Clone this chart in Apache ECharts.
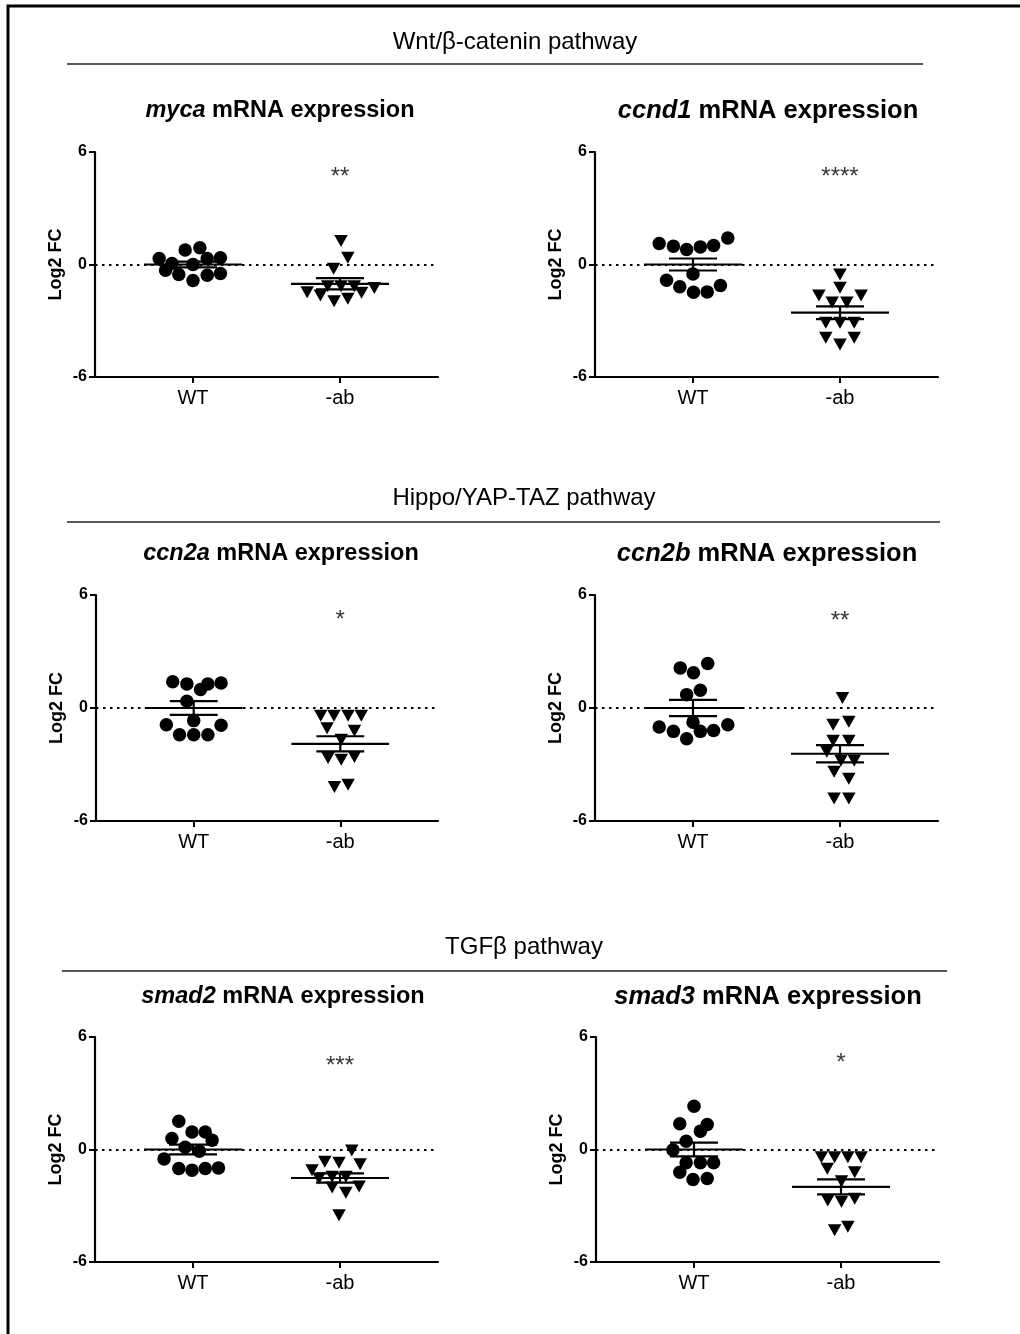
<!DOCTYPE html>
<html>
<head>
<meta charset="utf-8">
<script src="https://cdn.jsdelivr.net/npm/echarts@6/dist/echarts.min.js"></script>
<style>
html,body{margin:0;padding:0;background:#fff;}
#chart{width:1020px;height:1334px;}
</style>
</head>
<body>
<div id="chart"></div>
<script>
// ---------- data ----------
var groups = ['WT', '-ab'];
var groupX = [2, 5];
var yTicks = [-6, 0, 6];
var genes = ['myca', 'ccnd1', 'ccn2a', 'ccn2b', 'smad2', 'smad3'];
var sections = ['Wnt/\u03b2-catenin pathway', 'Hippo/YAP-TAZ pathway', 'TGF\u03b2 pathway'];
var stars = ['**', '****', '*', '**', '***', '*'];
var starY = [4.84, 4.84, 4.88, 4.83, 4.66, 4.8];

var mycaWT = [0.32, -0.30, 0.05, -0.53, 0.77, 0.0, -0.85, 0.89, 0.32, -0.57, 0.36, -0.48];
var mycaWTdx = [-0.69, -0.56, -0.43, -0.29, -0.16, 0, 0, 0.14, 0.29, 0.29, 0.56, 0.56];
var mycaAB = [1.25, 0.36, -0.23, -1.48, -1.65, -1.16, -1.96, -1.16, -1.83, -1.16, -1.51, -1.25];
var mycaABdx = [0.02, 0.16, -0.13, -0.67, -0.40, -0.25, -0.12, 0.02, 0.16, 0.29, 0.44, 0.70];

var ccnd1WT = [1.12, 0.98, 0.80, 0.94, 1.01, 1.41, -0.50, -0.84, -1.19, -1.48, -1.46, -1.12];
var ccnd1WTdx = [-0.69, -0.40, -0.13, 0.15, 0.42, 0.71, 0, -0.54, -0.27, 0.01, 0.29, 0.56];
var ccnd1AB = [-0.53, -1.24, -1.65, -1.65, -2.03, -2.03, -3.1, -3.1, -3.1, -3.9, -3.9, -4.27];
var ccnd1ABdx = [0, 0, -0.43, 0.43, -0.16, 0.14, -0.29, 0, 0.29, -0.29, 0.29, 0];

var ccn2aWT = [1.39, 1.28, 0.98, 1.28, 1.33, 0.36, -0.67, -0.89, -1.42, -1.42, -1.42, -0.92];
var ccn2aWTdx = [-0.43, -0.14, 0.14, 0.29, 0.56, -0.14, 0, -0.56, -0.29, 0, 0.29, 0.56];
var ccn2aAB = [-0.41, -0.41, -0.41, -0.41, -1.07, -1.21, -1.69, -2.65, -2.75, -2.6, -4.2, -4.08];
var ccn2aABdx = [-0.40, -0.13, 0.16, 0.43, -0.27, 0.29, 0.02, -0.25, 0.02, 0.29, -0.12, 0.16];

var ccn2bWT = [2.13, 1.87, 2.36, 0.71, 0.94, -0.75, -1.01, -1.24, -1.63, -1.24, -1.19, -0.89];
var ccn2bWTdx = [-0.26, 0.01, 0.30, -0.13, 0.15, 0, -0.69, -0.40, -0.13, 0.15, 0.42, 0.71];
var ccn2bAB = [0.53, -0.89, -0.73, -1.74, -1.74, -2.32, -2.8, -2.8, -3.39, -3.76, -4.8, -4.8];
var ccn2bABdx = [0.05, -0.14, 0.18, -0.14, 0.18, -0.27, 0.02, 0.29, -0.12, 0.18, -0.12, 0.18];

var smad2WT = [1.51, 0.59, 0.93, 0.93, 0.50, 0.12, -0.09, -0.50, -1.01, -1.10, -1.01, -0.98];
var smad2WTdx = [-0.29, -0.43, -0.02, 0.25, 0.39, -0.16, 0.13, -0.59, -0.29, -0.02, 0.25, 0.52];
var smad2AB = [-0.05, -0.65, -0.70, -0.78, -1.10, -1.55, -1.45, -1.45, -2.03, -2.30, -1.97, -3.50];
var smad2ABdx = [0.24, -0.31, -0.02, 0.41, -0.57, -0.43, -0.16, 0.12, -0.16, 0.12, 0.39, -0.02];

var smad3WT = [2.31, 1.37, 1.33, 0.98, 0.44, -0.02, -0.71, -0.71, -0.71, -1.21, -1.55, -1.60];
var smad3WTdx = [0, -0.29, 0.27, 0.13, -0.16, -0.43, -0.16, 0.13, 0.40, -0.29, 0.27, -0.02];
var smad3AB = [-0.41, -0.41, -0.41, -0.41, -1.03, -1.21, -1.69, -2.72, -2.79, -2.62, -4.3, -4.12];
var smad3ABdx = [-0.40, -0.13, 0.14, 0.41, -0.28, 0.28, 0.01, -0.27, 0.01, 0.28, -0.13, 0.14];

var meanWT = [0, 0, 0, 0, 0, 0];
var semWT = [0.15, 0.32, 0.36, 0.43, 0.26, 0.37];
var meanAB = [-1.03, -2.57, -1.9, -2.43, -1.52, -1.99];
var semAB = [0.3, 0.34, 0.4, 0.46, 0.25, 0.4];

var wtVals = [mycaWT, ccnd1WT, ccn2aWT, ccn2bWT, smad2WT, smad3WT];
var wtDx = [mycaWTdx, ccnd1WTdx, ccn2aWTdx, ccn2bWTdx, smad2WTdx, smad3WTdx];
var abVals = [mycaAB, ccnd1AB, ccn2aAB, ccn2bAB, smad2AB, smad3AB];
var abDx = [mycaABdx, ccnd1ABdx, ccn2aABdx, ccn2bABdx, smad2ABdx, smad3ABdx];

// ---------- layout ----------
var FONT = '"Liberation Sans", Arial, Helvetica, sans-serif';
var grids = [
  {left: 95, top: 152, width: 343, height: 225},
  {left: 595, top: 152, width: 343, height: 225},
  {left: 96, top: 595, width: 342, height: 226},
  {left: 595, top: 595, width: 343, height: 226},
  {left: 95, top: 1037, width: 343, height: 225},
  {left: 596, top: 1037, width: 343, height: 225}
];
var titlePos = [[280, 111], [768, 111], [281, 554], [767, 554], [283, 997], [768, 997]];
var titleSize = [23.5, 25.5, 23.5, 25.5, 23.5, 25.5];
var sectionPos = [[515, 42], [524, 498], [524, 947]];
var sectionLines = [[67, 923, 64], [67, 940, 522], [62, 947, 971]];

var chart = echarts.init(document.getElementById('chart'), null, {renderer: 'canvas'});

var xAxes = [], yAxes = [], series = [], graphics = [];

grids.forEach(function (g, i) {
  xAxes.push({
    gridIndex: i, type: 'value', min: 0, max: 7,
    axisLine: {show: true, onZero: false, lineStyle: {color: '#000', width: 2.2}},
    axisTick: {show: true, length: 6, inside: false, customValues: groupX, lineStyle: {color: '#000', width: 2}},
    axisLabel: {show: true, customValues: groupX, margin: 11, fontFamily: FONT, fontSize: 20, color: '#000',
      formatter: function (v) { var k = groupX.indexOf(v); return k >= 0 ? groups[k] : ''; }},
    splitLine: {show: false}
  });
  yAxes.push({
    gridIndex: i, type: 'value', min: -6, max: 6, interval: 6,
    name: 'Log2 FC', nameLocation: 'middle', nameGap: 30,
    nameTextStyle: {fontFamily: FONT, fontSize: 18, fontWeight: 'bold', color: '#000'},
    axisLine: {show: true, lineStyle: {color: '#000', width: 2.2}},
    axisTick: {show: true, length: 6, lineStyle: {color: '#000', width: 2}},
    axisLabel: {margin: 8, fontFamily: FONT, fontSize: 16, fontWeight: 'bold', color: '#000'},
    splitLine: {show: false}
  });

  var wtData = wtVals[i].map(function (v, k) { return [groupX[0] + wtDx[i][k], v]; });
  var abData = abVals[i].map(function (v, k) { return [groupX[1] + abDx[i][k], v]; });

  series.push({
    type: 'scatter', xAxisIndex: i, yAxisIndex: i, data: wtData,
    symbol: 'circle', symbolSize: 13.5, itemStyle: {color: '#000', opacity: 1}, silent: true, z: 3,
    markLine: {
      silent: true, symbol: ['none', 'none'], label: {show: false},
      lineStyle: {type: [2.5, 4.5], color: '#000', width: 2, opacity: 1},
      data: [{yAxis: 0}], animation: false
    }
  });
  series.push({
    type: 'scatter', xAxisIndex: i, yAxisIndex: i, data: abData,
    symbol: 'triangle', symbolRotate: 180, symbolSize: [13.5, 12], itemStyle: {color: '#000', opacity: 1}, silent: true, z: 3
  });
  series.push({
    type: 'custom', xAxisIndex: i, yAxisIndex: i, silent: true, z: 4,
    data: [[groupX[0], meanWT[i], semWT[i]], [groupX[1], meanAB[i], semAB[i]]],
    renderItem: function (params, api) {
      var cx = api.value(0), m = api.value(1), s = api.value(2);
      var st = {stroke: '#000', lineWidth: 2.2};
      function seg(a, b) {
        var p1 = api.coord(a), p2 = api.coord(b);
        return {type: 'line', shape: {x1: p1[0], y1: p1[1], x2: p2[0], y2: p2[1]}, style: st};
      }
      return {type: 'group', children: [
        seg([cx - 1.0, m], [cx + 1.0, m]),
        seg([cx, m - s], [cx, m + s]),
        seg([cx - 0.49, m + s], [cx + 0.49, m + s]),
        seg([cx - 0.49, m - s], [cx + 0.49, m - s])
      ]};
    }
  });
  series.push({
    type: 'scatter', xAxisIndex: i, yAxisIndex: i, silent: true, z: 5,
    data: [[groupX[1], starY[i]]], symbolSize: 1, itemStyle: {color: 'rgba(0,0,0,0)'},
    label: {show: true, position: 'inside', formatter: stars[i], fontFamily: FONT, fontSize: 24, color: '#000', offset: [0, 4]}
  });

  graphics.push({
    type: 'text', x: titlePos[i][0], y: titlePos[i][1], silent: true,
    style: {
      text: '{i|' + genes[i] + '}{b| mRNA expression}',
      align: 'center', verticalAlign: 'middle', textAlign: 'center', textVerticalAlign: 'middle',
      rich: {
        i: {fontFamily: FONT, fontSize: titleSize[i], fontWeight: 'bold', fontStyle: 'italic', fill: '#000', color: '#000'},
        b: {fontFamily: FONT, fontSize: titleSize[i], fontWeight: 'bold', fill: '#000', color: '#000'}
      }
    }
  });
});

sections.forEach(function (s, k) {
  graphics.push({
    type: 'text', x: sectionPos[k][0], y: sectionPos[k][1], silent: true,
    style: {text: s, font: '24px ' + FONT, fill: '#000', align: 'center', verticalAlign: 'middle',
      textAlign: 'center', textVerticalAlign: 'middle'}
  });
  graphics.push({
    type: 'line', silent: true,
    shape: {x1: sectionLines[k][0], y1: sectionLines[k][2], x2: sectionLines[k][1], y2: sectionLines[k][2]},
    style: {stroke: '#222', lineWidth: 1.6}
  });
});
graphics.push({type: 'polyline', silent: true, shape: {points: [[8, 1334], [8, 6], [1020, 6]]},
  style: {stroke: '#000', lineWidth: 3, fill: null}});

chart.setOption({
  animation: false,
  backgroundColor: '#fff',
  grid: grids,
  xAxis: xAxes,
  yAxis: yAxes,
  series: series,
  graphic: graphics
});
</script>
</body>
</html>
